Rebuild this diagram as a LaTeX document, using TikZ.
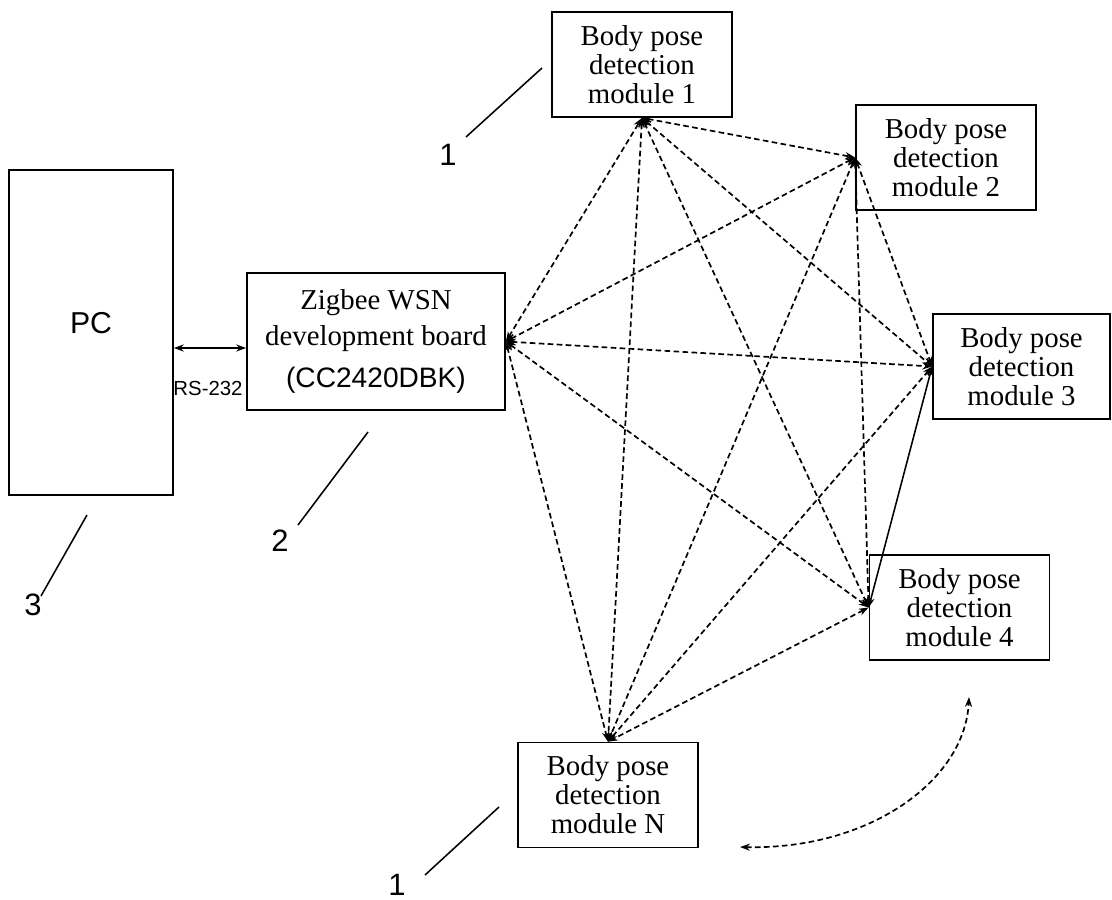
\documentclass[tikz,border=0pt]{standalone}
\usepackage{fontspec}
\usetikzlibrary{arrows.meta}
\setmainfont{Liberation Serif}
\setsansfont{Liberation Sans}
\begin{document}
\begin{tikzpicture}[
    x=0.025cm, y=-0.025cm,
    box/.style={draw, line width=1.2pt, inner sep=0pt, align=center},
    module/.style={box, minimum width=4.5cm, minimum height=2.625cm,
                   font=\fontsize{20.5}{20.6}\selectfont},
    refnum/.style={font=\sffamily\fontsize{22}{24}\selectfont},
    leader/.style={line width=1.1pt},
    radio/.style={<->, >={Stealth[length=7pt,width=5pt]}, line width=1.2pt,
                  dash pattern=on 4pt off 2.4pt},
    wire/.style={<->, >={Stealth[length=7pt,width=5pt]}, line width=1.1pt},
  ]
    \useasboundingbox (0,0) rectangle (1112,900);

    % PC and the development board
    \node[box, minimum width=4.1cm, minimum height=8.125cm, text depth=0.5cm,
          font=\sffamily\fontsize{21.5}{24}\selectfont] (pc) at (91,332.5) {PC};
    \node[box, minimum width=6.45cm, minimum height=3.425cm,
          font=\fontsize{20.5}{22}\selectfont] (zig) at (376,341.5)
          {Zigbee WSN\\[4pt]development board\\[8pt]{\sffamily\fontsize{20}{22}\selectfont (CC2420DBK)}};

    \coordinate (rs) at (0,348);
    \draw[wire] (pc.east |- rs) -- (zig.west |- rs);
    \node[font=\sffamily\fontsize{14.5}{16}\selectfont] (rslab) at (208,388) {RS-232};

    % Body pose detection modules
    \node[module] (m1) at (642,64.5) {Body pose\\detection\\module 1};
    \node[module] (m2) at (946,157.5) {Body pose\\detection\\module 2};
    \node[module, minimum width=4.425cm] (m3) at (1021.5,366.5) {Body pose\\detection\\module 3};
    \node[module] (m4) at (959.5,607.5) {Body pose\\detection\\module 4};
    \node[module] (mn) at (608,795) {Body pose\\detection\\module N};

    % Wireless links
    \foreach \a/\b in {zig.east/m1.south, zig.east/m2.west, zig.east/m3.west,
                       zig.east/m4.west, zig.east/mn.north,
                       m1.south/m2.west, m1.south/m3.west, m1.south/m4.west,
                       m1.south/mn.north, m2.west/m3.west, m2.west/m4.west,
                       m2.west/mn.north, m3.west/mn.north, m4.west/mn.north}
      \draw[radio] (\a) -- (\b);
    \draw[wire] (m3.west) -- (m4.west);

    \coordinate (etcl) at (740,847);
    \coordinate (etcr) at (969,697);
    \draw[radio] (etcl) .. controls (870,850) and (965,780) .. (etcr);

    % Reference numbers
    \node[refnum] (n1a) at (448,155) {1};
    \coordinate (q1a) at (466,137);
    \coordinate (p1a) at (542,68);
    \draw[leader] (q1a) -- (p1a);

    \node[refnum] (n2) at (280,541) {2};
    \coordinate (q2) at (298,525);
    \coordinate (p2) at (368,432);
    \draw[leader] (q2) -- (p2);

    \node[refnum] (n3) at (33,605) {3};
    \coordinate (q3) at (41,596);
    \coordinate (p3) at (87,515);
    \draw[leader] (q3) -- (p3);

    \node[refnum] (n1b) at (397,885) {1};
    \coordinate (q1b) at (425,875);
    \coordinate (p1b) at (499,807);
    \draw[leader] (q1b) -- (p1b);
  \end{tikzpicture}
\end{document}
